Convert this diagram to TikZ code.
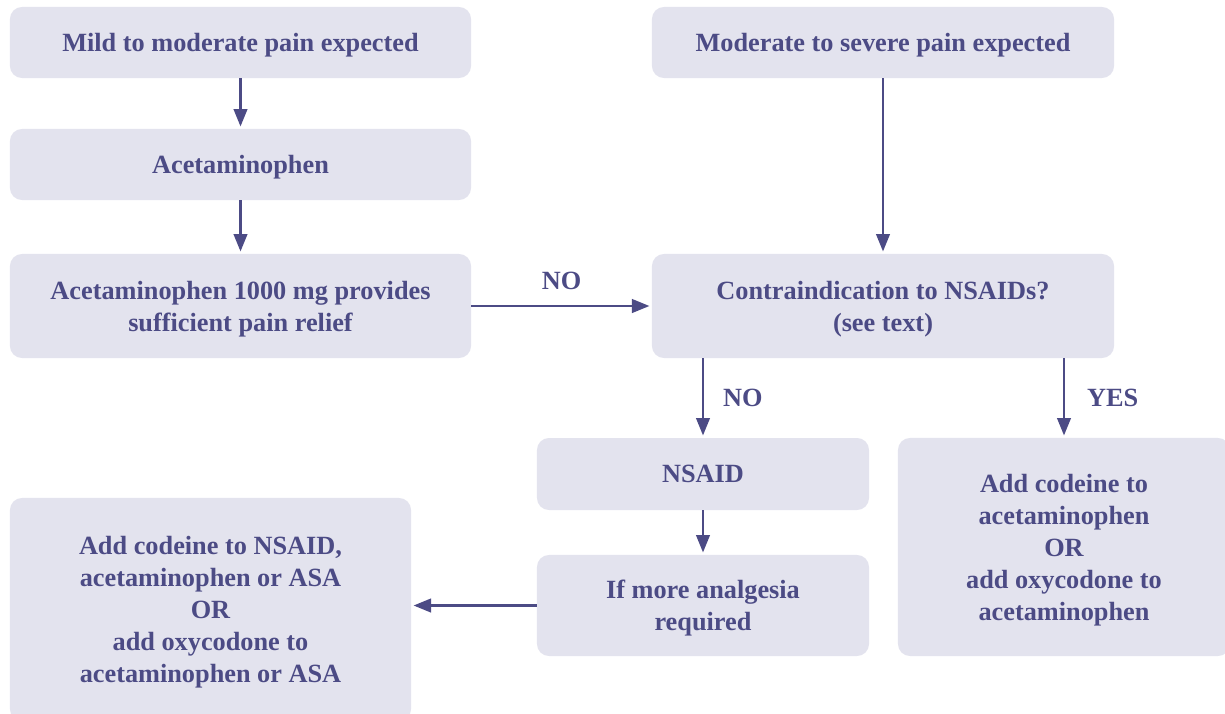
\documentclass[tikz,border=0pt]{standalone}
\usepackage{fontspec}
\setmainfont{Liberation Serif}
\usetikzlibrary{arrows.meta}
\definecolor{ink}{HTML}{4C4B85}
\definecolor{boxfill}{HTML}{E3E3EE}
\tikzset{box/.style={fill=boxfill, rounded corners=0.3cm, text=ink,
         font=\fontsize{18.7}{22.8}\selectfont\bfseries, align=center,
         inner sep=0pt, text depth=-2.8pt, minimum width=#1},
         box/.default={11.525cm},
         arr/.style={draw=ink, line width=2.1pt, shorten >=1.5pt,
         -{Triangle[length=12.5pt, width=9.5pt]}},
         lab/.style={text=ink, font=\fontsize{18.7}{22.8}\selectfont\bfseries}}
\begin{document}
\begin{tikzpicture}[x=0.025cm, y=-0.025cm]
\useasboundingbox (0,0) rectangle (1225,713);

\node[box, minimum height=1.775cm] (mild) at (240.5,42.5) {Mild to moderate pain expected};
\node[box, minimum height=1.775cm] (acet) at (240.5,164.5) {Acetaminophen};
\node[box, minimum height=2.6cm] (relief) at (240.5,306) {Acetaminophen 1000 mg provides\\sufficient pain relief};

\node[box=11.55cm, minimum height=1.775cm] (severe) at (883,42.5) {Moderate to severe pain expected};
\node[box=11.55cm, minimum height=2.6cm] (contra) at (883,306) {Contraindication to NSAIDs?\\(see text)};

\node[box=8.3cm, minimum height=1.8cm] (nsaid) at (703,474) {NSAID};
\node[box=8.3cm, minimum height=2.525cm] (more) at (703,605.5) {If more analgesia\\required};
\node[box=8.3cm, minimum height=5.45cm] (opioid) at (1064,547) {Add codeine to\\acetaminophen\\OR\\add oxycodone to\\acetaminophen};
\node[box=10.025cm, minimum height=5.575cm] (codeine) at (210.5,609.5) {Add codeine to NSAID,\\acetaminophen or ASA\\OR\\add oxycodone to\\acetaminophen or ASA};

\draw[arr] (mild) -- (acet);
\draw[arr] (acet) -- (relief);
\draw[arr] (severe) -- (contra);
\draw[arr] (relief) -- node[lab, above=7pt] (no1) {NO} (contra);
\draw[arr] (contra.south -| nsaid) -- node[lab, right=10pt] (no2) {NO} (nsaid);
\draw[arr] (contra.south -| opioid) -- node[lab, right=12pt] (yes) {YES} (opioid);
\draw[arr] (nsaid) -- (more);
\draw[arr] (more.west) -- (more.west -| codeine.east);

\end{tikzpicture}
\end{document}
